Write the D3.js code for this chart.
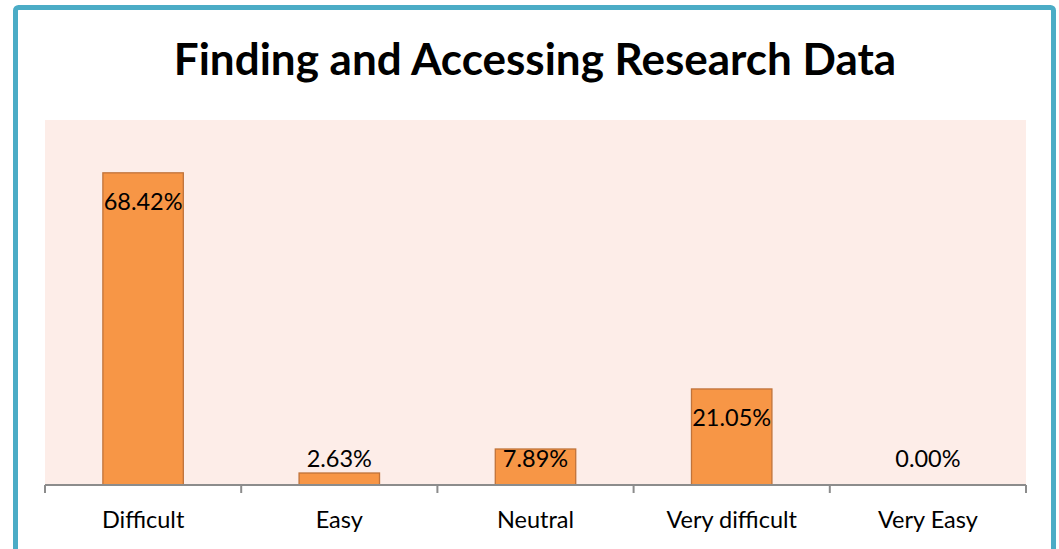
<!DOCTYPE html>
<html>
<head>
<meta charset="utf-8">
<script src="https://cdn.jsdelivr.net/npm/d3@7"></script>
<style>
  body { margin: 0; background: #fff; }
  svg { display: block; }
</style>
</head>
<body>
<div id="chart"></div>
<script>
// data
const categories = ["Difficult", "Easy", "Neutral", "Very difficult", "Very Easy"];
const values = [68.42, 2.63, 7.89, 21.05, 0.00];
const title = "Finding and Accessing Research Data";

const width = 1059, height = 549;
const plot = { left: 45, right: 1026, top: 120, bottom: 485 };
const font = "Lato, 'Open Sans', sans-serif";

const svg = d3.select("#chart").append("svg")
  .attr("width", width)
  .attr("height", height);

// outer frame
svg.append("rect")
  .attr("x", 15.5).attr("y", 7.5)
  .attr("width", 1038).attr("height", 560)
  .attr("rx", 3)
  .attr("fill", "#fff")
  .attr("stroke", "#4bacc6")
  .attr("stroke-width", 5);

// title
svg.append("text")
  .attr("x", 535).attr("y", 75)
  .attr("text-anchor", "middle")
  .style("font-family", font)
  .style("font-weight", "bold")
  .style("font-size", "44px")
  .text(title);

// plot area
svg.append("rect")
  .attr("x", plot.left).attr("y", plot.top)
  .attr("width", plot.right - plot.left)
  .attr("height", plot.bottom - plot.top)
  .attr("fill", "#fdede8");

const x = d3.scaleBand()
  .domain(categories)
  .range([plot.left, plot.right])
  .paddingInner(0.59)
  .paddingOuter(0.295);

const y = d3.scaleLinear()
  .domain([0, 80])
  .range([plot.bottom, plot.top]);

// bars
svg.selectAll(".bar")
  .data(values)
  .enter().append("rect")
  .attr("class", "bar")
  .attr("x", (d, i) => x(categories[i]))
  .attr("y", d => y(d))
  .attr("width", x.bandwidth())
  .attr("height", d => y(0) - y(d))
  .attr("fill", "#f79646")
  .attr("stroke", d => d > 0 ? "#c0733a" : "none")
  .attr("stroke-width", 1.3);

// data labels (inside end, clamped above the axis)
svg.selectAll(".lbl")
  .data(values)
  .enter().append("text")
  .attr("class", "lbl")
  .attr("x", (d, i) => x(categories[i]) + x.bandwidth() / 2)
  .attr("y", d => Math.min(y(d) + 29, y(0) - 26))
  .attr("dy", "0.35em")
  .attr("text-anchor", "middle")
  .style("font-family", font)
  .style("font-size", "23.5px")
  .attr("fill", "#000")
  .text(d => d.toFixed(2) + "%");

// x axis
const axisG = svg.append("g");
axisG.append("line")
  .attr("x1", plot.left).attr("x2", plot.right)
  .attr("y1", plot.bottom).attr("y2", plot.bottom)
  .attr("stroke", "#8c8c8c").attr("stroke-width", 2);

const step = x.step();
const tickPos = d3.range(categories.length + 1).map(i => plot.left + i * step);
axisG.selectAll(".tick")
  .data(tickPos)
  .enter().append("line")
  .attr("x1", d => d).attr("x2", d => d)
  .attr("y1", plot.bottom).attr("y2", plot.bottom + 8)
  .attr("stroke", "#8c8c8c").attr("stroke-width", 2);

axisG.selectAll(".cat")
  .data(categories)
  .enter().append("text")
  .attr("x", d => x(d) + x.bandwidth() / 2)
  .attr("y", 520)
  .attr("dy", "0.35em")
  .attr("text-anchor", "middle")
  .style("font-family", font)
  .style("font-size", "23.5px")
  .attr("fill", "#000")
  .text(d => d);
</script>
</body>
</html>
